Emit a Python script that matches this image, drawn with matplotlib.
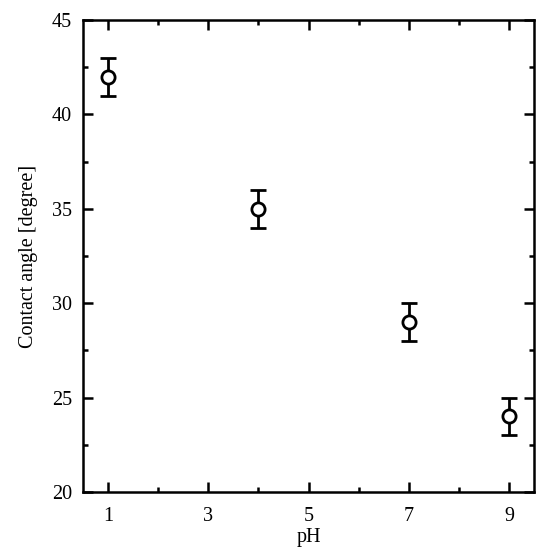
import matplotlib
matplotlib.use("Agg")
import matplotlib.pyplot as plt
from matplotlib.ticker import MultipleLocator

# dados: ângulo de contato x pH
ph = [1, 4, 7, 9]
angulo = [42, 35, 29, 24]
erro = [1, 1, 1, 1]

plt.rcParams['font.family'] = ['Liberation Serif', 'DejaVu Serif']
plt.rcParams['font.size'] = 14.5

fig = plt.figure(figsize=(5.5, 5.5), dpi=100)
ax = fig.add_axes([83/550, 1 - 492/550, (534-83)/550, (492-20)/550])

ax.errorbar(ph, angulo, yerr=erro, fmt="o", color="black", mfc="white",
            mec="black", mew=2, ms=9.5, elinewidth=2, capsize=5.5, capthick=2)

ax.set_xlim(0.5, 9.5)
ax.set_ylim(20, 45)
ax.set_xticks([1, 3, 5, 7, 9])
ax.set_xticks([2, 4, 6, 8], minor=True)
ax.yaxis.set_major_locator(MultipleLocator(5))
ax.yaxis.set_minor_locator(MultipleLocator(2.5))

for s in ax.spines.values():
    s.set_linewidth(1.8)
ax.tick_params(which="both", direction="in", top=True, right=True, width=1.8, labelsize=14.5)
ax.tick_params(which="major", length=7)
ax.tick_params(which="minor", length=3.5)
ax.tick_params(axis="x", pad=11)
ax.tick_params(axis="y", pad=8)

ax.set_xlabel("pH", labelpad=1)
ax.set_ylabel("Contact angle [degree]", labelpad=10)

fig.savefig("out.png", dpi=100)
